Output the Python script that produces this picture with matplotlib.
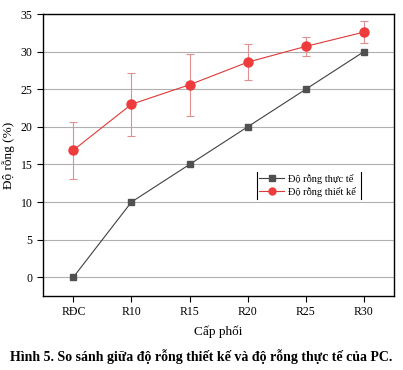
import matplotlib
matplotlib.use('Agg')
import matplotlib.pyplot as plt
from matplotlib.lines import Line2D

# data
categories = ['RĐC', 'R10', 'R15', 'R20', 'R25', 'R30']
thuc_te = [0, 10, 15, 20, 25, 30]
thiet_ke = [16.9, 23.0, 25.6, 28.6, 30.7, 32.6]
thiet_ke_err = [3.8, 4.2, 4.1, 2.4, 1.3, 1.5]

plt.rcParams['font.family'] = ['Liberation Serif', 'DejaVu Serif']

fig = plt.figure(figsize=(4.03, 3.70), dpi=100)
ax = fig.add_axes([0.107, 0.2, 0.871, 0.762])

x = list(range(len(categories)))

ax.grid(axis='y', color='#b0b0b0', lw=0.8)
ax.set_axisbelow(True)

ax.plot(x, thuc_te, color='#404040', lw=0.8, marker='s', ms=5,
        mfc='#505050', mec='#505050', label='Độ rỗng thực tế')
ax.errorbar(x, thiet_ke, yerr=thiet_ke_err, color='#e03838', lw=0.8,
            marker='o', ms=6.5, mfc='#ee3b3b', mec='#ee3b3b',
            ecolor='#e09090', elinewidth=0.8, capsize=3, capthick=0.8,
            label='Độ rỗng thiết kế')

ax.set_xlim(-0.52, 5.52)
ax.set_ylim(-2.5, 35)
ax.set_xticks(x)
ax.set_xticklabels(categories)
ax.set_yticks(range(0, 36, 5))
ax.tick_params(labelsize=8.5, direction='out', length=4, width=0.8)
for s in ax.spines.values():
    s.set_linewidth(1.0)

ax.set_xlabel('Cấp phối', fontsize=9.5, labelpad=5)
ax.set_ylabel('Độ rỗng (%)', fontsize=9.5, labelpad=4)

# legend: only left/right edges visible in the original
handles = [
    Line2D([], [], color='#404040', lw=0.8, marker='s', ms=4, mfc='#505050', mec='#505050'),
    Line2D([], [], color='#e03838', lw=0.8, marker='o', ms=5, mfc='#ee3b3b', mec='#ee3b3b'),
]
labels = ['Độ rỗng thực tế', 'Độ rỗng thiết kế']
leg = ax.legend(handles, labels, loc='upper left', bbox_to_anchor=(0.61, 0.44),
                fontsize=7.5, frameon=True, fancybox=False, edgecolor='none',
                facecolor='white', framealpha=1,
                borderpad=0.2, handlelength=2.4, handletextpad=0.4,
                labelspacing=0.25, borderaxespad=0)

fig.canvas.draw()
bb = leg.get_window_extent().transformed(ax.transAxes.inverted())
pad = 0.006
for xe in (bb.x0, bb.x1 + pad):
    ax.plot([xe, xe], [bb.y0, bb.y1], transform=ax.transAxes, color='black',
            lw=0.8, zorder=10, clip_on=False)

fig.text(0.5, 0.035, 'Hình 5. So sánh giữa độ rỗng thiết kế và độ rỗng thực tế của PC.',
         ha='center', va='center', fontsize=10, fontweight='bold')

fig.savefig('out.png', dpi=100)
